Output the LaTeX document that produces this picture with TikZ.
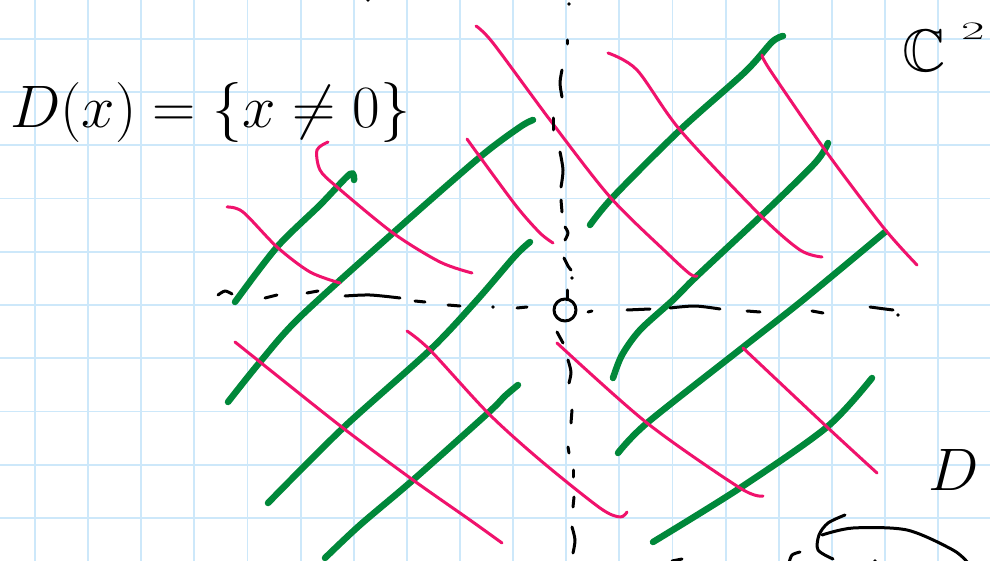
\RequirePackage{fix-cm}
\documentclass[tikz,border=0pt]{standalone}
\usepackage{amssymb}
\definecolor{gridblue}{RGB}{205,232,250}
\definecolor{sgreen}{RGB}{0,136,58}
\definecolor{spink}{RGB}{240,18,108}
\tikzset{
  gridln/.style={draw=gridblue,line width=1.8pt},
  gstroke/.style={draw=sgreen,line width=6.5pt,line cap=round,line join=round},
  pstroke/.style={draw=spink,line width=3pt,line cap=round,line join=round},
  bstroke/.style={draw=black,line width=3pt,line cap=round,line join=round},
  hand/.style={inner sep=0pt,outer sep=0pt,text=black}
}
\begin{document}
\begin{tikzpicture}[x=1pt,y=-1pt]
\useasboundingbox (0,0) rectangle (990,561);
\fill[white] (0,0) rectangle (990,561);
% grid
\foreach \k in {0,...,18} {\draw[gridln] ({35+53.125*\k},0) -- ({35+53.125*\k},561);}
\foreach \k in {0,...,9} {\draw[gridln] (0,{39+53.2*\k}) -- (990,{39+53.2*\k});}
% green strokes
\draw[gstroke] plot[smooth] coordinates {(235,302) (277,247) (320,205) (350,174) (354,180)};
\draw[gstroke] plot[smooth] coordinates {(228,402) (260,362) (300,317) (393,233) (480,157) (520,127) (533,120)};
\draw[gstroke] plot[smooth] coordinates {(268,503) (343,428) (430,350) (477,300) (515,256) (530,242)};
\draw[gstroke] plot[smooth] coordinates {(325,558) (360,525) (413,480) (488,413) (505,396) (518,385)};
\draw[gstroke] plot[smooth] coordinates {(590,225) (613,197) (680,130) (745,72) (772,42) (783,36)};
\draw[gstroke] plot[smooth] coordinates {(613,378) (622,355) (640,330) (673,300) (697,276) (762,215) (815,163) (828,143)};
\draw[gstroke] plot[smooth] coordinates {(618,453) (647,423) (742,348) (803,300) (885,232)};
\draw[gstroke] plot[smooth] coordinates {(653,542) (740,488) (827,427) (872,378)};
% pink strokes
\draw[pstroke] plot[smooth] coordinates {(227,207) (243,212) (277,247) (310,272) (340,283)};
\draw[pstroke] plot[smooth] coordinates {(328,142) (317,150) (320,170) (337,187) (393,233) (440,262) (472,273)};
\draw[pstroke] plot[smooth] coordinates {(476,26) (493,43) (550,120) (610,197) (667,253) (690,274) (697,276)};
\draw[pstroke] plot[smooth] coordinates {(235,342) (260,362) (343,428) (413,480) (470,520) (502,543)};
\draw[pstroke] plot[smooth] coordinates {(407,331) (430,350) (488,413) (540,460) (600,508) (620,517) (627,512)};
\draw[pstroke] plot[smooth] coordinates {(467,139) (480,157) (517,207) (540,233) (553,243)};
\draw[pstroke] plot[smooth] coordinates {(608,53) (637,70) (680,130) (760,215) (800,250) (822,257)};
\draw[pstroke] plot[smooth] coordinates {(762,55) (770,70) (825,150) (883,227) (917,265)};
\draw[pstroke] plot[smooth] coordinates {(557,343) (647,423) (740,488) (763,496)};
\draw[pstroke] plot[smooth] coordinates {(743,348) (827,427) (877,473)};
% horizontal dashed axis
\draw[bstroke] plot[smooth] coordinates {(218,295) (225,291) (232,294)};
\draw[bstroke] (265,298) -- (277,295);
\draw[bstroke] (307,293) -- (318,291);
\draw[bstroke] plot[smooth] coordinates {(345,296) (370,295) (400,298)};
\draw[bstroke] (415,301) -- (425,302);
\draw[bstroke] (448,305) -- (460,306);
\fill (493,307) circle (1.8);
\draw[bstroke] (517,308) -- (527,307);
\draw[bstroke] (565,310) circle (11);
\draw[bstroke] (567,290) -- (567,299);
\draw[bstroke] (588,312) -- (592,311);
\draw[bstroke] (627,310) -- (650,309);
\draw[bstroke] plot[smooth] coordinates {(670,308) (695,306) (720,309)};
\draw[bstroke] (747,311) -- (760,312);
\draw[bstroke] (812,311) -- (823,313);
\draw[bstroke] plot[smooth] coordinates {(870,307) (885,309) (893,310)};
\fill (898,315) circle (1.8);
% vertical dashed axis
\fill (569,4) circle (1.8);
\draw[bstroke] (567,40) -- (567,44);
\draw[bstroke] plot[smooth] coordinates {(562,70) (560,83) (562,97)};
\draw[bstroke] (553,118) -- (553,130);
\draw[bstroke] plot[smooth] coordinates {(560,152) (563,170) (561,187)};
\draw[bstroke] (561,200) -- (562,212);
\draw[bstroke] plot[smooth] coordinates {(565,227) (568,233) (565,240)};
\draw[bstroke] plot[smooth] coordinates {(564,258) (568,266) (571,270)};
\fill (572,278) circle (1.8);
\draw[bstroke] (557,332) -- (563,343);
\draw[bstroke] plot[smooth] coordinates {(568,360) (571,372) (569,383)};
\draw[bstroke] (572,410) -- (571,423);
\draw[bstroke] (568,447) -- (569,453);
\draw[bstroke] (573,470) -- (573,477);
\draw[bstroke] (574,497) -- (573,507);
\draw[bstroke] plot[smooth] coordinates {(572,527) (575,540) (573,553)};
\fill (368,0) circle (1.8);
% bottom marks
\draw[bstroke] (672,561) -- (682,559);
\draw[bstroke] plot[smooth] coordinates {(789,563) (792,555) (800,552)};
\draw[bstroke] plot[smooth] coordinates {(845,515) (828,523) (819,535) (818,550) (833,559)};
\draw[bstroke] plot[smooth] coordinates {(822,535) (853,528) (907,530) (953,550) (968,563)};
\fill (875,561) circle (1.8);
% labels
\node[hand,anchor=base west] (dom) at (10,128) {\fontsize{60}{70}\selectfont $D(x)=\{x\neq 0\}$};
\node[hand,anchor=base west] (cc) at (902,72) {\fontsize{60}{70}\selectfont $\mathbb{C}$};
\node[hand,anchor=base west] (sq) at (961,40) {\scalebox{0.85}[0.42]{\fontsize{60}{70}\selectfont $2$}};
\node[hand,anchor=base west] (dd) at (928,490) {\fontsize{60}{70}\selectfont $D$};
\end{tikzpicture}
\end{document}
